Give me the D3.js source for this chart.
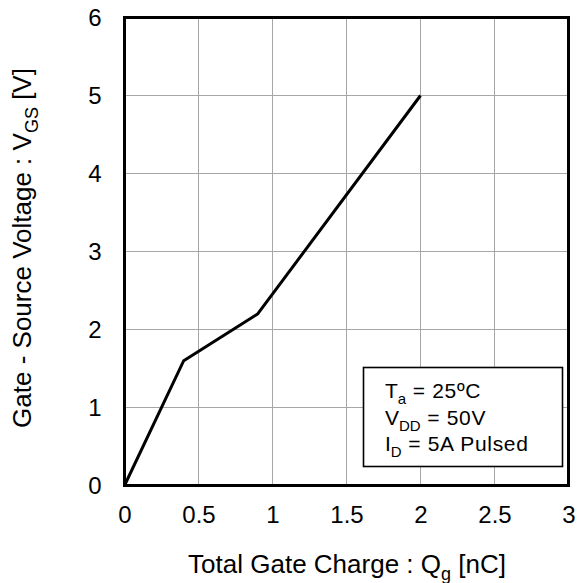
<!DOCTYPE html>
<html>
<head>
<meta charset="utf-8">
<script src="https://cdn.jsdelivr.net/npm/d3@7"></script>
<style>
  html, body { margin: 0; padding: 0; background: #fff; }
  text { font-family: "Liberation Sans", Arial, sans-serif; fill: #000; }
</style>
</head>
<body>
<svg id="chart" width="579" height="583"></svg>
<script>
// Gate charge curve: V_GS versus Q_g
const qg = [0, 0.4, 0.9, 2.0];
const vgs = [0, 1.6, 2.2, 5.0];
const xTicks = [0, 0.5, 1, 1.5, 2, 2.5, 3];
const yTicks = [0, 1, 2, 3, 4, 5, 6];
const xTickLabels = ["0", "0.5", "1", "1.5", "2", "2.5", "3"];
const yTickLabels = ["0", "1", "2", "3", "4", "5", "6"];
const conditions = [
  { main: "T", sub: "a", rest: " = 25ºC" },
  { main: "V", sub: "DD", rest: " = 50V" },
  { main: "I", sub: "D", rest: " = 5A Pulsed" }
];

const svg = d3.select("#chart");
const plotL = 124.5, plotR = 568.5, plotT = 17.5, plotB = 485.5;

const x = d3.scaleLinear().domain([0, 3]).range([plotL, plotR]);
const y = d3.scaleLinear().domain([0, 6]).range([plotB, plotT]);

// grid
const grid = svg.append("g");
grid.selectAll("line.vx").data(xTicks.slice(1, -1)).join("line")
  .attr("x1", d => x(d)).attr("x2", d => x(d))
  .attr("y1", plotT).attr("y2", plotB)
  .attr("stroke", "#a6a6a6").attr("stroke-width", 1);
grid.selectAll("line.hy").data(yTicks.slice(1, -1)).join("line")
  .attr("x1", plotL).attr("x2", plotR)
  .attr("y1", d => y(d)).attr("y2", d => y(d))
  .attr("stroke", "#a6a6a6").attr("stroke-width", 1);

// tick labels via axes
const xAxis = d3.axisBottom(x).tickValues(xTicks)
  .tickFormat((d, i) => xTickLabels[i]).tickSize(0).tickPadding(20);
const gx = svg.append("g").attr("transform", `translate(0,${plotB})`).call(xAxis);
gx.select(".domain").remove();
gx.selectAll("text").style("font-size", "24px").style("font-family", "Liberation Sans, Arial, sans-serif").attr("fill", "#000");

const yAxis = d3.axisLeft(y).tickValues(yTicks)
  .tickFormat((d, i) => yTickLabels[i]).tickSize(0).tickPadding(23);
const gy = svg.append("g").attr("transform", `translate(${plotL},0)`).call(yAxis);
gy.select(".domain").remove();
gy.selectAll("text").style("font-size", "24px").style("font-family", "Liberation Sans, Arial, sans-serif").attr("fill", "#000");

// curve
const line = d3.line().x(d => x(d[0])).y(d => y(d[1]));
svg.append("path")
  .datum(qg.map((q, i) => [q, vgs[i]]))
  .attr("d", line)
  .attr("fill", "none").attr("stroke", "#000").attr("stroke-width", 3)
  .attr("stroke-linejoin", "miter");

// frame
svg.append("rect")
  .attr("x", plotL).attr("y", plotT)
  .attr("width", plotR - plotL).attr("height", plotB - plotT)
  .attr("fill", "none").attr("stroke", "#000").attr("stroke-width", 3);

// condition box
const box = svg.append("g");
box.append("rect")
  .attr("x", 363.5).attr("y", 367.5).attr("width", 199).attr("height", 99)
  .attr("fill", "#fff").attr("stroke", "#000").attr("stroke-width", 1.6);
conditions.forEach((c, i) => {
  const t = box.append("text").attr("x", 385).attr("y", 398 + i * 26.7)
    .style("font-size", "21px");
  t.append("tspan").text(c.main);
  t.append("tspan").attr("dy", 6).style("font-size", "15px").text(c.sub);
  t.append("tspan").attr("dy", -6).style("letter-spacing", "0.7px").text(c.rest);
});

// axis titles
const xt = svg.append("text").attr("x", 347).attr("y", 573)
  .attr("text-anchor", "middle").style("font-size", "26px");
xt.append("tspan").text("Total Gate Charge : Q");
xt.append("tspan").attr("dy", 7).style("font-size", "18px").text("g");
xt.append("tspan").attr("dy", -7).text(" [nC]");

const yt = svg.append("text")
  .attr("transform", "translate(31,248) rotate(-90)")
  .attr("text-anchor", "middle").style("font-size", "26px");
yt.append("tspan").text("Gate - Source Voltage : V");
yt.append("tspan").attr("dy", 7).style("font-size", "18px").text("GS");
yt.append("tspan").attr("dy", -7).text(" [V]");
</script>
</body>
</html>
